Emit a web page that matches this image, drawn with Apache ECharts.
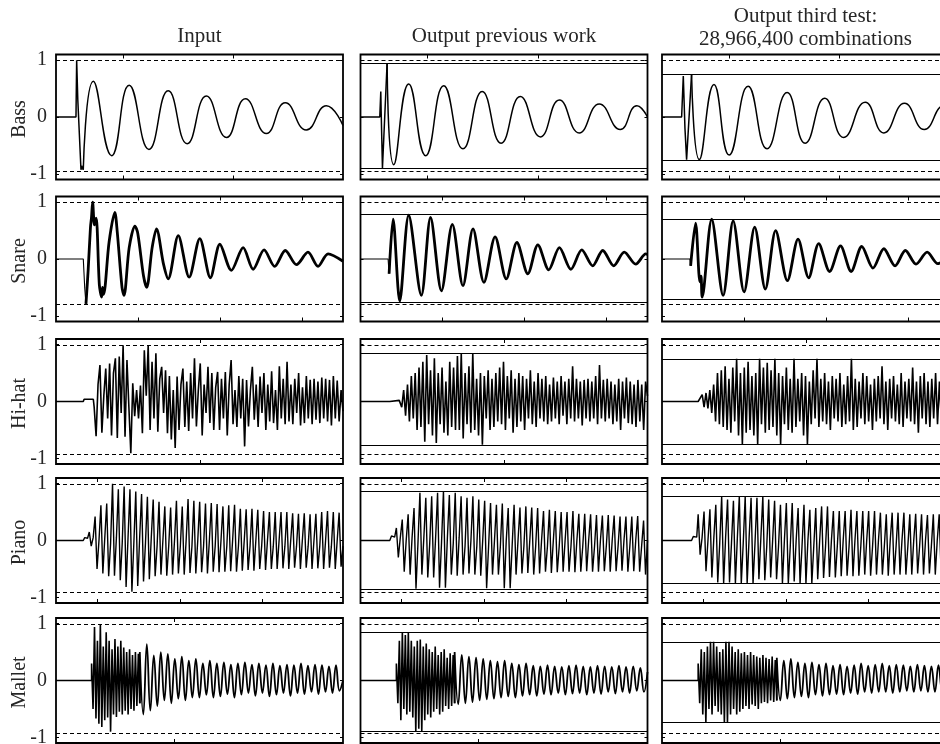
<!DOCTYPE html>
<html><head><meta charset="utf-8">
<script src="https://cdn.jsdelivr.net/npm/echarts@6.0.0/dist/echarts.min.js"></script>
<style>html,body{margin:0;padding:0;background:#fff}#c{width:940px;height:744px}</style>
</head><body><div id="c"></div><script>
// ---------------- DATA (time in % of the window, amplitude normalised) ----------------
const columnTitles = ['Input', 'Output previous work', ['Output third test:', '28,966,400 combinations']];
const rowNames = ['Bass', 'Snare', 'Hi-hat', 'Piano', 'Mallet'];
const yTickValues = [-1, 0, 1];
const yTickLabels = ['-1', '0', '1'];
const bassTicks = [23.3, 61.8];
const snareTicks = [28.5, 57.1, 85.7];
const hihatTicks = [50.2];
const pianoTicks = [14.2, 43.2, 71.7];
const malletTicks = [41.1];

// input range (dashed) and output ranges (solid)
const bassInRange = [1.0, -0.953], bassPrevRange = [0.947, -0.906], bassThirdRange = [0.76, -0.76];
const snareInRange = [1.0, -0.8], snarePrevRange = [0.79, -0.76], snareThirdRange = [0.70, -0.70];
const hihatInRange = [0.995, -0.915], hihatPrevRange = [0.85, -0.77], hihatThirdRange = [0.75, -0.76];
const pianoInRange = [0.995, -0.905], pianoPrevRange = [0.865, -0.86], pianoThirdRange = [0.777, -0.76];
const malletInRange = [0.995, -0.93], malletPrevRange = [0.85, -0.9], malletThirdRange = [0.68, -0.74];

// Bass
const bassInLead = [[0,0],[6.96,0],[7.2,1.0],[7.6,0.3],[8.7,-0.93],[9.0,-0.86],[9.5,-0.93]];
const bassInBody = [[9.5,-0.93],[13.0,0.63],[19.4,-0.68],[25.5,0.56],[32.4,-0.57],[39.1,0.46],[45.7,-0.47],[52.4,0.37],[59.4,-0.36],[66.0,0.32],[73.3,-0.29],[79.9,0.25],[87.2,-0.23],[94.2,0.2],[100,-0.15]];
const bassPrevLead = [[0,0],[6.72,0],[7.07,0.45],[7.2,0.1],[7.65,-0.9],[9.27,0.95]];
const bassPrevBody = [[9.27,0.95],[11.59,-0.84],[16.8,0.58],[22.7,-0.68],[29.0,0.55],[35.7,-0.56],[42.4,0.45],[49.0,-0.46],[55.7,0.36],[62.7,-0.35],[69.3,0.30],[76.2,-0.28],[83.2,0.23],[90.5,-0.22],[96.3,0.2],[100,0.0]];
const bassThirdLead = [[0,0],[6.84,0],[7.42,0.72],[8.0,-0.2],[8.57,-0.75],[10.3,0.75]];
const bassThirdBody = [[10.3,0.75],[13.0,-0.75],[18.1,0.57],[23.4,-0.67],[30.0,0.54],[36.6,-0.56],[43.6,0.43],[49.9,-0.46],[56.7,0.33],[63.3,-0.36],[70.8,0.26],[77.3,-0.28],[84.5,0.24],[91.4,-0.22],[98.4,0.2],[100,0.18]];

// Snare
const snareInLead = [[0,0],[9.51,0],[10.0,-0.5],[10.44,-0.79]];
const snareInBody = [[10.44,-0.79],[11.2,-0.2],[12.0,0.55],[12.4,0.75],[12.76,1.0],[13.4,0.6],[14.0,0.72],[15.1,-0.45],[15.9,-0.67],[16.2,-0.5],[16.6,-0.62],[18.5,0.3],[20.5,0.82],[21.3,0.5],[23.0,-0.5],[23.7,-0.64],[25.5,0.2],[27.5,0.58],[28.5,0.45],[30.5,-0.3],[31.6,-0.5],[33.5,0.2],[35.0,0.53],[37.5,-0.1],[39.1,-0.35],[42.6,0.41],[46.4,-0.32],[50.1,0.36],[53.8,-0.33],[57.1,0.26],[61.1,-0.2],[65.2,0.2],[68.7,-0.18],[72.5,0.16],[76.2,-0.13],[79.9,0.15],[83.8,-0.1],[87.8,0.12],[91.3,-0.13],[94.8,0.09],[100,-0.04]];
const snarePrevLead = [[0,0],[9.62,0],[9.97,-0.26]];
const snarePrevBody = [[9.97,-0.26],[11.36,0.70],[13.67,-0.74],[16.8,0.77],[21.2,-0.64],[24.4,0.73],[28.2,-0.56],[32.0,0.61],[35.7,-0.47],[39.2,0.53],[43.0,-0.41],[46.9,0.39],[50.8,-0.35],[54.5,0.29],[58.3,-0.26],[61.8,0.25],[65.6,-0.19],[69.3,0.2],[73.3,-0.18],[77.1,0.16],[80.9,-0.12],[84.4,0.15],[88.2,-0.12],[91.9,0.12],[95.9,-0.09],[99.4,0.09],[100,0.08]];
const snareThirdLead = [[0,0],[9.73,0],[9.97,-0.12]];
const snareThirdBody = [[9.97,-0.12],[11.7,0.63],[13.2,-0.4],[13.6,-0.3],[14.0,-0.67],[17.3,0.70],[21.3,-0.64],[24.8,0.67],[28.6,-0.58],[32.3,0.56],[36.0,-0.53],[39.6,0.5],[43.7,-0.38],[47.4,0.35],[51.1,-0.33],[54.6,0.27],[58.4,-0.22],[62.2,0.23],[65.9,-0.22],[69.6,0.22],[73.5,-0.16],[77.3,0.18],[81.2,-0.12],[84.8,0.15],[88.5,-0.09],[92.4,0.12],[96.1,-0.08],[100,0.05]];

// Hi-hat (lead-in pairs, then evenly spaced samples from start to 100)
const hihatInLead = [[0,0],[9.5,0],[9.8,0.04],[13.0,0.04]];
const hihatInStart = 13.3;
const hihatInVals = [-0.1,-0.61,0.3,0.64,-0.55,0.1,0.58,-0.3,0.67,-0.6, 0.5,0.76,-0.64,0.79,-0.2,0.99,-0.62,0.73,-0.1,-0.91, 0.32,-0.26,0.2,-0.3,0.28,-0.56,0.9,0.1,0.98,-0.5, 0.7,-0.3,0.85,-0.53,0.4,0.61,-0.2,0.55,-0.56,0.45, -0.67,0.2,-0.82,0.44,-0.5,0.3,0.58,-0.45,0.35,-0.52, 0.5,-0.3,0.76,-0.44,0.2,0.67,-0.6,0.3,-0.2,0.61, -0.38,0.5,-0.5,0.25,0.52,-0.5,0.4,-0.3,0.52,-0.6, 0.3,0.73,-0.4,0.2,-0.45,0.45,-0.3,0.4,-0.79,0.38, -0.44,0.2,0.61,-0.32,0.3,-0.45,0.44,-0.2,0.5,-0.5, 0.3,-0.35,0.53,-0.38,0.2,-0.5,0.62,-0.3,0.4,-0.4, 0.7,-0.35,0.3,-0.4,0.4,-0.2,0.5,-0.42,0.25,-0.38, 0.45,-0.3,0.38,-0.4,0.4,-0.32,0.35,-0.38,0.42,-0.3, 0.4,-0.35,0.38,-0.42,0.45,-0.3,0.37,-0.35,0.2,-0.17];
const hihatPrevLead = [[0,0],[10.2,0],[10.5,0.02],[13.5,0.02]];
const hihatPrevStart = 13.7;
const hihatPrevVals = [0.05,-0.1,0.2,-0.25,0.3,-0.35,0.45,-0.3,0.5,-0.5, 0.6,-0.45,0.7,-0.71,0.82,-0.4,0.55,-0.6,0.76,-0.73, 0.5,-0.4,0.6,-0.55,0.35,-0.6,0.7,-0.45,0.6,-0.5, 0.8,-0.5,0.85,-0.65,0.5,-0.4,0.62,-0.55,0.85,-0.5, 0.4,-0.6,0.5,-0.76,0.45,-0.3,0.55,-0.5,0.4,-0.45, 0.5,-0.35,0.6,-0.4,0.7,-0.5,0.45,-0.3,0.55,-0.55, 0.4,-0.45,0.5,-0.35,0.45,-0.5,0.4,-0.3,0.55,-0.4, 0.35,-0.45,0.5,-0.3,0.4,-0.35,0.45,-0.4,0.3,-0.35, 0.42,-0.3,0.35,-0.4,0.45,-0.25,0.35,-0.4,0.4,-0.3, 0.62,-0.35,0.4,-0.3,0.35,-0.42,0.38,-0.3,0.4,-0.35, 0.35,-0.3,0.45,-0.4,0.64,-0.3,0.38,-0.35,0.4,-0.3, 0.35,-0.4,0.3,-0.35,0.4,-0.5,0.35,-0.3,0.42,-0.38, 0.35,-0.4,0.3,-0.45,0.38,-0.35,0.3,-0.5,0.35,0.1];
const hihatThirdLead = [[0,0],[12.6,0],[13.0,0.03]];
const hihatThirdStart = 14.0;
const hihatThirdVals = [0.12,-0.1,0.15,-0.12,0.2,-0.2,0.3,-0.35,0.5,-0.4, 0.55,-0.45,0.62,-0.5,0.4,-0.55,0.6,-0.35,0.75,-0.6, 0.5,-0.75,0.6,-0.55,0.7,-0.5,0.45,-0.6,0.5,-0.75, 0.75,-0.4,0.6,-0.55,0.68,-0.5,0.55,-0.45,0.75,-0.6, 0.5,-0.75,0.45,-0.4,0.6,-0.5,0.4,-0.55,0.75,-0.45, 0.4,-0.35,0.5,-0.6,0.45,-0.75,0.35,-0.4,0.55,-0.3, 0.75,-0.45,0.4,-0.35,0.5,-0.4,0.35,-0.5,0.45,-0.3, 0.4,-0.35,0.5,-0.45,0.3,-0.4,0.45,-0.35,0.75,-0.5, 0.4,-0.45,0.35,-0.3,0.5,-0.4,0.45,-0.35,0.3,-0.5, 0.4,-0.35,0.45,-0.3,0.62,-0.4,0.35,-0.5,0.4,-0.3, 0.45,-0.35,0.3,-0.4,0.5,-0.45,0.35,-0.3,0.4,-0.35, 0.6,-0.4,0.35,-0.55,0.45,-0.3,0.5,-0.4,0.35,-0.45, 0.4,-0.3,0.5,-0.4,0.35,-0.35,0.45,-0.4,0.3,-0.2];

// Piano (per period: peak, trough, middle)
const pianoInLead = [[0,0],[9.5,0],[10.0,0.05],[11.0,0.04]];
const pianoInStart = 11.6;
const pianoInVals = [0.15,-0.1,0.05, 0.42,-0.5,0.0, 0.62,-0.58,0.05, 0.65,-0.63,-0.05, 1.0,-0.62,0.05, 0.9,-0.7,-0.05, 0.95,-0.82,0.05, 0.9,-0.9,-0.05, 0.86,-0.8,0.05, 0.82,-0.72,-0.05, 0.77,-0.68,0.05, 0.72,-0.63,-0.1, 0.68,-0.6,0.0, 0.6,-0.62,-0.1, 0.58,-0.6,0.0, 0.7,-0.58,-0.1, 0.6,-0.6,0.0, 0.73,-0.57,-0.1, 0.7,-0.58,0.0, 0.68,-0.56,-0.1, 0.65,-0.58,0.0, 0.66,-0.55,-0.1, 0.64,-0.56,0.0, 0.6,-0.55,-0.1, 0.62,-0.54,0.0, 0.63,-0.55,-0.1, 0.56,-0.53,0.0, 0.55,-0.52,-0.1, 0.56,-0.53,0.0, 0.54,-0.5,-0.1, 0.52,-0.52,0.0, 0.5,-0.5,-0.1, 0.5,-0.5,0.0, 0.5,-0.49,-0.1, 0.5,-0.5,0.0, 0.48,-0.48,-0.1, 0.47,-0.5,0.0, 0.48,-0.48,-0.1, 0.46,-0.5,0.0, 0.47,-0.49,-0.1, 0.5,-0.5,0.0, 0.52,-0.48,-0.1, 0.5,-0.5,0.0, 0.49,-0.46,-0.1];
const pianoPrevLead = [[0,0],[10.2,0],[10.8,0.08],[11.9,0.06]];
const pianoPrevStart = 12.5;
const pianoPrevVals = [0.22,-0.3,0.05, 0.37,-0.55,0.0, 0.46,-0.6,0.05, 0.57,-0.85,-0.05, 0.84,-0.6,0.05, 0.75,-0.65,-0.05, 0.78,-0.65,0.05, 0.84,-0.83,-0.05, 0.87,-0.83,0.05, 0.8,-0.6,-0.05, 0.84,-0.62,0.05, 0.78,-0.6,-0.1, 0.75,-0.58,0.0, 0.78,-0.6,-0.1, 0.72,-0.62,0.0, 0.7,-0.84,-0.1, 0.66,-0.6,0.0, 0.63,-0.6,-0.1, 0.65,-0.84,0.0, 0.57,-0.84,-0.1, 0.63,-0.6,0.0, 0.58,-0.58,-0.1, 0.6,-0.57,0.0, 0.58,-0.6,-0.1, 0.57,-0.58,0.0, 0.52,-0.55,-0.1, 0.54,-0.57,0.0, 0.52,-0.56,-0.1, 0.5,-0.55,0.0, 0.5,-0.55,-0.1, 0.52,-0.56,0.0, 0.47,-0.55,-0.1, 0.47,-0.54,0.0, 0.46,-0.55,-0.1, 0.45,-0.55,0.0, 0.44,-0.54,-0.1, 0.45,-0.55,0.0, 0.44,-0.54,-0.1, 0.42,-0.53,0.0, 0.42,-0.55,-0.1, 0.42,-0.54,0.0, 0.43,-0.55,-0.1, 0.35,-0.6,0.0];
const pianoThirdLead = [[0,0],[10.3,0],[10.9,0.07],[12.1,0.06]];
const pianoThirdStart = 12.6;
const pianoThirdVals = [0.46,-0.25,0.05, 0.51,-0.54,0.0, 0.55,-0.65,0.05, 0.63,-0.74,-0.05, 0.78,-0.76,0.05, 0.72,-0.74,-0.05, 0.7,-0.76,0.05, 0.78,-0.76,-0.05, 0.78,-0.76,0.05, 0.75,-0.76,-0.05, 0.75,-0.68,0.05, 0.78,-0.7,-0.1, 0.72,-0.65,0.0, 0.7,-0.68,-0.1, 0.63,-0.76,0.0, 0.66,-0.76,-0.1, 0.66,-0.72,0.0, 0.57,-0.76,-0.1, 0.63,-0.76,0.0, 0.54,-0.76,-0.1, 0.57,-0.68,0.0, 0.6,-0.66,-0.1, 0.6,-0.64,0.0, 0.52,-0.65,-0.1, 0.52,-0.63,0.0, 0.52,-0.62,-0.1, 0.54,-0.63,0.0, 0.52,-0.62,-0.1, 0.52,-0.6,0.0, 0.52,-0.62,-0.1, 0.52,-0.6,0.0, 0.49,-0.6,-0.1, 0.46,-0.62,0.0, 0.49,-0.6,-0.1, 0.49,-0.6,0.0, 0.49,-0.6,-0.1, 0.46,-0.6,0.0, 0.47,-0.58,-0.1, 0.46,-0.6,0.0, 0.45,-0.58,-0.1, 0.46,-0.6,0.0, 0.46,-0.6,-0.1, 0.47,-0.6,0.0];

// Mallet (burst samples, then ringing tail samples)
const malletInLead = [[0,0],[12.4,0]];
const malletInBurstEnd = 29.2;
const malletInBurst = [0.3,-0.5,0.94,-0.67,0.7,-0.76,0.99,-0.82,0.6,-0.7,0.85,-0.65,0.7,-0.9,0.55,-0.6,0.73,-0.64,0.6,-0.55,0.7,-0.6,0.58,-0.53,0.5,-0.6,0.55,-0.5,0.45,-0.53,0.5,-0.45,0.47,-0.4];
const malletInTail = [0.5,-0.6,0.64,-0.53,0.44,-0.45,0.5,-0.35,0.47,-0.4,0.38,-0.32,0.42,-0.35,0.35,-0.3,0.38,-0.3,0.3,-0.25,0.35,-0.3,0.3,-0.28,0.32,-0.24,0.28,-0.3,0.3,-0.25,0.32,-0.22,0.28,-0.27,0.3,-0.22,0.27,-0.28,0.3,-0.25,0.26,-0.22,0.28,-0.27,0.27,-0.22,0.3,-0.24,0.26,-0.2,0.28,-0.24,0.27,-0.2,0.25,-0.22,0.27,-0.18,0.0];
const malletPrevLead = [[0,0],[12.5,0]];
const malletPrevBurstEnd = 32.8;
const malletPrevBurst = [0.3,-0.4,0.7,-0.7,0.85,-0.5,0.8,-0.6,0.85,-0.55,0.7,-0.65,0.6,-0.9,0.7,-0.85,0.72,-0.9,0.6,-0.7,0.65,-0.6,0.55,-0.65,0.5,-0.55,0.6,-0.5,0.45,-0.6,0.5,-0.55,0.55,-0.45,0.4,-0.5,0.48,-0.45,0.45,-0.4];
const malletPrevTail = [0.5,-0.42,0.45,-0.4,0.42,-0.38,0.4,-0.35,0.38,-0.33,0.35,-0.32,0.33,-0.3,0.35,-0.28,0.3,-0.3,0.28,-0.27,0.3,-0.25,0.26,-0.27,0.25,-0.24,0.27,-0.25,0.25,-0.22,0.24,-0.25,0.26,-0.23,0.27,-0.22,0.25,-0.25,0.24,-0.22,0.26,-0.24,0.25,-0.2,0.24,-0.23,0.26,-0.2,0.24,-0.22,0.25,-0.18,0.22,-0.2,0.15];
const malletThirdLead = [[0,0],[12.6,0]];
const malletThirdBurstEnd = 40.0;
const malletThirdBurst = [0.3,-0.4,0.55,-0.6,0.5,-0.74,0.6,-0.5,0.68,-0.6,0.68,-0.45,0.6,-0.55,0.5,-0.6,0.55,-0.74,0.68,-0.74,0.68,-0.6,0.6,-0.5,0.5,-0.6,0.55,-0.55,0.48,-0.5,0.5,-0.45,0.45,-0.5,0.5,-0.42,0.45,-0.45,0.42,-0.5,0.4,-0.4,0.45,-0.38,0.4,-0.4,0.38,-0.35,0.42,-0.38,0.36,-0.35];
const malletThirdTail = [0.4,-0.35,0.35,-0.32,0.38,-0.3,0.32,-0.28,0.3,-0.3,0.32,-0.25,0.28,-0.27,0.3,-0.25,0.26,-0.24,0.28,-0.25,0.25,-0.22,0.27,-0.24,0.3,-0.2,0.26,-0.22,0.28,-0.2,0.3,-0.2,0.26,-0.22,0.28,-0.2,0.27,-0.18,0.25,-0.2,0.28,-0.18,0.26,-0.2,0.25,-0.2,0.27,-0.18,0.25,-0.2];

// ---------------- BUILD ----------------
function spread(start, end, vals) {
  const n = vals.length;
  return vals.map((v, i) => [start + (end - start) * i / (n - 1), v]);
}
function burstTail(lead, burstEnd, burst, tail) {
  const b = spread(lead[lead.length - 1][0], burstEnd, burst);
  const t = spread(burstEnd, 100, tail);
  return [{d: lead.concat(b), w: 1.6}, {d: [b[b.length - 1]].concat(t), w: 1.8, s: 0.45}];
}

const panels = [
  {r:0, c:0, ticks: bassTicks, dashed: bassInRange, parts: [{d: bassInLead, w: 1.5}, {d: bassInBody, w: 1.5, s: 0.5}]},
  {r:0, c:1, ticks: bassTicks, dashed: bassInRange, solid: bassPrevRange, parts: [{d: bassPrevLead, w: 1.5}, {d: bassPrevBody, w: 1.5, s: 0.5}]},
  {r:0, c:2, ticks: bassTicks, dashed: bassInRange, solid: bassThirdRange, parts: [{d: bassThirdLead, w: 1.5}, {d: bassThirdBody, w: 1.5, s: 0.5}]},
  {r:1, c:0, ticks: snareTicks, dashed: snareInRange, parts: [{d: snareInLead, w: 1.1}, {d: snareInBody, w: 2.8, s: 0.3}]},
  {r:1, c:1, ticks: snareTicks, dashed: snareInRange, solid: snarePrevRange, parts: [{d: snarePrevLead, w: 1.1}, {d: snarePrevBody, w: 2.8, s: 0.3}]},
  {r:1, c:2, ticks: snareTicks, dashed: snareInRange, solid: snareThirdRange, parts: [{d: snareThirdLead, w: 1.1}, {d: snareThirdBody, w: 2.8, s: 0.3}]},
  {r:2, c:0, ticks: hihatTicks, dashed: hihatInRange, parts: [{d: hihatInLead.concat(spread(hihatInStart, 100, hihatInVals)), w: 1.6}]},
  {r:2, c:1, ticks: hihatTicks, dashed: hihatInRange, solid: hihatPrevRange, parts: [{d: hihatPrevLead.concat(spread(hihatPrevStart, 100, hihatPrevVals)), w: 1.6}]},
  {r:2, c:2, ticks: hihatTicks, dashed: hihatInRange, solid: hihatThirdRange, parts: [{d: hihatThirdLead.concat(spread(hihatThirdStart, 100, hihatThirdVals)), w: 1.6}]},
  {r:3, c:0, ticks: pianoTicks, dashed: pianoInRange, parts: [{d: pianoInLead.concat(spread(pianoInStart, 100, pianoInVals)), w: 1.4}]},
  {r:3, c:1, ticks: pianoTicks, dashed: pianoInRange, solid: pianoPrevRange, parts: [{d: pianoPrevLead.concat(spread(pianoPrevStart, 100, pianoPrevVals)), w: 1.4}]},
  {r:3, c:2, ticks: pianoTicks, dashed: pianoInRange, solid: pianoThirdRange, parts: [{d: pianoThirdLead.concat(spread(pianoThirdStart, 100, pianoThirdVals)), w: 1.4}]},
  {r:4, c:0, ticks: malletTicks, dashed: malletInRange, parts: burstTail(malletInLead, malletInBurstEnd, malletInBurst, malletInTail)},
  {r:4, c:1, ticks: malletTicks, dashed: malletInRange, solid: malletPrevRange, parts: burstTail(malletPrevLead, malletPrevBurstEnd, malletPrevBurst, malletPrevTail)},
  {r:4, c:2, ticks: malletTicks, dashed: malletInRange, solid: malletThirdRange, parts: burstTail(malletThirdLead, malletThirdBurstEnd, malletThirdBurst, malletThirdTail)}
];

const FONT = '"Liberation Serif", "Times New Roman", serif';
const TXT = '#262626';
const colLeft = [56, 360.5, 662];
const rowTop = [54.5, 196.5, 339, 478, 618];
const PW = 287, PH = 125;

const grid = [], xAxis = [], yAxis = [], series = [];
panels.forEach((p, g) => {
  grid.push({left: colLeft[p.c], top: rowTop[p.r], width: PW, height: PH, show: true,
    borderColor: '#000', borderWidth: 1.8, backgroundColor: 'transparent', containLabel: false, outerBoundsMode: 'none'});
  ['bottom', 'top'].forEach(pos => xAxis.push({
    gridIndex: g, type: 'value', min: 0, max: 100, position: pos,
    axisLine: {show: false, onZero: false}, splitLine: {show: false}, axisLabel: {show: false},
    axisTick: {show: true, inside: true, length: 4, customValues: p.ticks, lineStyle: {color: '#000', width: 1}}
  }));
  ['left', 'right'].forEach(pos => yAxis.push({
    gridIndex: g, type: 'value', min: -1.1, max: 1.1, position: pos,
    axisLine: {show: false, onZero: false}, splitLine: {show: false},
    axisTick: {show: true, inside: true, length: 3, customValues: yTickValues, lineStyle: {color: '#000', width: 1}},
    axisLabel: {show: pos === 'left' && p.c === 0, customValues: yTickValues,
      formatter: v => yTickLabels[yTickValues.indexOf(v)],
      fontFamily: FONT, fontSize: 20, color: TXT, margin: 9, padding: [5, 0, 0, 0]}
  }));
  const ml = [];
  p.dashed.forEach(v => ml.push({yAxis: v, lineStyle: {type: [4, 3], width: 1, color: '#000'}}));
  (p.solid || []).forEach(v => ml.push({yAxis: v, lineStyle: {type: 'solid', width: 1.2, color: '#000'}}));
  p.parts.forEach((part, k) => {
    const s = {
      type: 'line', xAxisIndex: 2 * g, yAxisIndex: 2 * g, data: part.d,
      showSymbol: false, symbol: 'none', smooth: part.s || false,
      lineStyle: {color: '#000', width: part.w}, animation: false, silent: true,
      emphasis: {disabled: true}, clip: true, z: 3
    };
    if (k === 0) s.markLine = {symbol: ['none', 'none'], silent: true, animation: false, label: {show: false},
      emphasis: {disabled: true}, data: ml};
    series.push(s);
  });
});

const graphic = [];
columnTitles.forEach((t, c) => {
  const cx = colLeft[c] + PW / 2;
  const lines = Array.isArray(t) ? t : [t];
  const ys = lines.length === 1 ? [36] : [16, 39];
  lines.forEach((ln, i) => graphic.push({type: 'text', x: cx, y: ys[i], silent: true,
    style: {text: ln, font: '21px ' + FONT, fill: TXT, align: 'center', verticalAlign: 'middle', textAlign: 'center', textVerticalAlign: 'middle'}}));
});
rowNames.forEach((n, r) => graphic.push({type: 'text', x: 19.5, y: rowTop[r] + PH / 2 + 2, rotation: Math.PI / 2, silent: true,
  style: {text: n, font: '20px ' + FONT, fill: TXT, align: 'center', verticalAlign: 'middle', textAlign: 'center', textVerticalAlign: 'middle'}}));

const chart = echarts.init(document.getElementById('c'), null, {renderer: 'canvas'});
chart.setOption({animation: false, backgroundColor: '#fff', grid, xAxis, yAxis, series, graphic});
</script></body></html>
